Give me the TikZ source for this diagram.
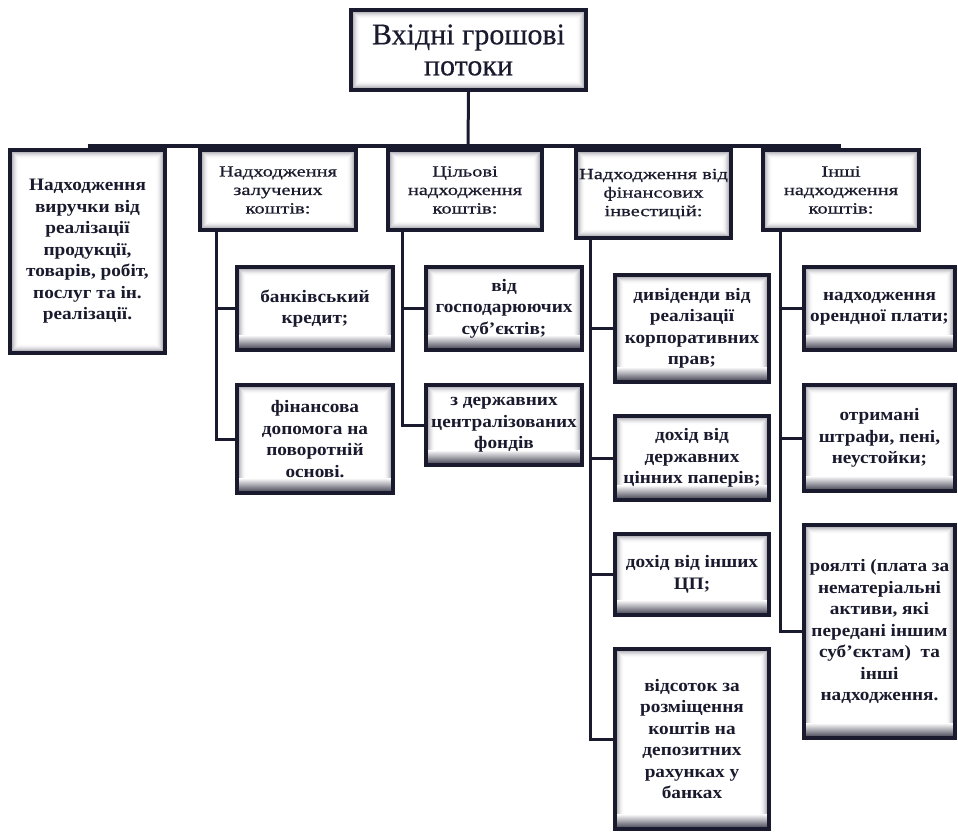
\documentclass[tikz,border=0pt]{standalone}
\usepackage{fontspec}
\setmainfont{Liberation Serif}
\newfontfamily\titlefont{Liberation Serif}[FakeBold=0.4]
\newfontfamily\headfont{Liberation Serif}[FakeStretch=1.32, FakeBold=0.7]
\newfontfamily\bodyfont{Liberation Serif}[FakeStretch=1.1]
\usetikzlibrary{calc}
\definecolor{ink}{RGB}{26,26,46}

% soft inner glow along the inside of a frame
\newcommand\innerglow{%
  \foreach \k [evaluate=\k as \op using 0.30*(1-\k/7)^2] in {0,...,6}{%
    \draw[ink, line width=1pt, opacity=\op]
      ([xshift={2.5+\k}, yshift={2.5+\k}]path picture bounding box.south west) rectangle
      ([xshift={-2.5-\k}, yshift={-2.5-\k}]path picture bounding box.north east);
  }}
% darker band fading in at the bottom edge
\newcommand\bottomband{%
  \shade[top color=white, bottom color=ink!75]
    ([xshift=2pt, yshift=2pt]path picture bounding box.south west) rectangle
    ([xshift=-2pt, yshift=15pt]path picture bounding box.south east);}

\tikzset{
  frame/.style={rectangle, draw=ink, line width=4pt, fill=white, inner sep=0pt,
    align=center, text=ink, path picture={\innerglow}},
  subframe/.style={frame, path picture={\innerglow\bottomband}},
  titletext/.style={font=\titlefont\fontsize{30}{31}\selectfont},
  headtext/.style={font=\headfont\fontsize{15.5}{18.5}\selectfont},
  bodytext/.style={font=\bodyfont\bfseries\fontsize{17.5}{21.5}\selectfont},
  link/.style={draw=ink, line width=3pt},
}

% box from outer pixel bounds: name, x1, y1, x2, y2, style, text
\newcommand\pbox[7]{%
  \node[#6, minimum width={(#4)-(#2)-4}, minimum height={(#5)-(#3)-4}]
    (#1) at ({((#2)+(#4))/2}, {((#3)+(#5))/2}) {#7};}

\begin{document}
\begin{tikzpicture}[x=1pt, y=-1pt]
\useasboundingbox (0,0) rectangle (958,832);

% root
\pbox{root}{349}{8}{588}{92}{frame,titletext}{Вхідні грошові\\потоки}

% first level
\pbox{b1}{8}{148}{167}{355}{frame,bodytext}{Надходження\\виручки від\\реалізації\\продукції,\\товарів, робіт,\\послуг та ін.\\реалізації.}
\pbox{b2}{198}{148}{358}{232}{frame,headtext}{Надходження\\залучених\\коштів:}
\pbox{b3}{386}{148}{544}{232}{frame,headtext}{Цільові\\надходження\\коштів:}
\pbox{b4}{574}{148}{733}{240}{frame,headtext}{Надходження від\\фінансових\\інвестицій:}
\pbox{b5}{761}{148}{921}{232}{frame,headtext}{Інші\\надходження\\коштів:}

% borrowed funds
\pbox{c21}{235}{265}{395}{352}{subframe,bodytext}{банківський\\кредит;}
\pbox{c22}{235}{383}{395}{495}{subframe,bodytext}{фінансова\\допомога на\\поворотній\\основі.}

% targeted receipts
\pbox{c31}{424}{265}{584}{352}{subframe,bodytext}{від\\господарюючих\\суб’єктів;}
\pbox{c32}{424}{383}{584}{467}{subframe,bodytext}{з державних\\централізованих\\фондів}

% financial investments
\pbox{c41}{613}{273}{771}{384}{subframe,bodytext}{дивіденди від\\реалізації\\корпоративних\\прав;}
\pbox{c42}{613}{414}{771}{502}{subframe,bodytext}{дохід від\\державних\\цінних паперів;}
\pbox{c43}{613}{532}{771}{617}{subframe,bodytext}{дохід від інших\\ЦП;}
\pbox{c44}{613}{647}{771}{831}{subframe,bodytext}{відсоток за\\розміщення\\коштів на\\депозитних\\рахунках у\\банках}

% other receipts
\pbox{c51}{802}{265}{957}{352}{subframe,bodytext}{надходження\\орендної плати;}
\pbox{c52}{802}{383}{957}{493}{subframe,bodytext}{отримані\\штрафи, пені,\\неустойки;}
\pbox{c53}{802}{523}{957}{740}{subframe,bodytext}{роялті (плата за\\нематеріальні\\активи, які\\передані іншим\\суб’єктам)~ та\\інші\\надходження.}

% trunk and bus
\coordinate (bus) at (468,146);
\draw[link] (root.south) -- (bus);
\draw[link] (b1.north |- bus) -- (b5.north |- bus);

% branch spines
\coordinate (s2) at (216,0);
\coordinate (s3) at (402,0);
\coordinate (s4) at (590,0);
\coordinate (s5) at (780,0);

\draw[link] (b2.south -| s2) |- (c22.west);
\draw[link] (b2.south -| s2) |- (c21.west);

\draw[link] (b3.south -| s3) |- (c32.west);
\draw[link] (b3.south -| s3) |- (c31.west);

\draw[link] (b4.south -| s4) |- (c44.west);
\draw[link] (b4.south -| s4) |- (c41.west);
\draw[link] (b4.south -| s4) |- (c42.west);
\draw[link] (b4.south -| s4) |- (c43.west);

\draw[link] (b5.south -| s5) |- (c53.west);
\draw[link] (b5.south -| s5) |- (c51.west);
\draw[link] (b5.south -| s5) |- (c52.west);
\end{tikzpicture}
\end{document}
